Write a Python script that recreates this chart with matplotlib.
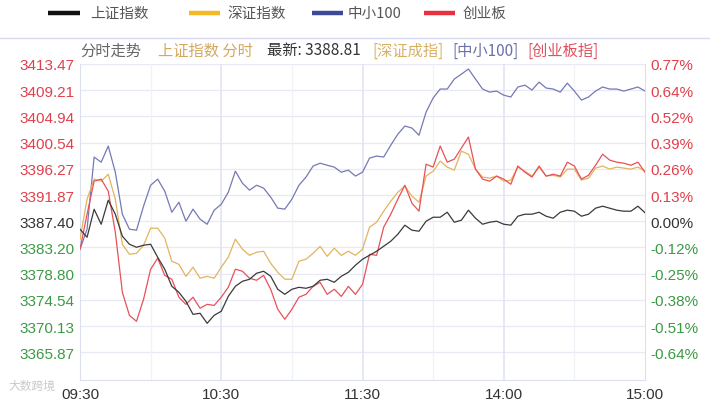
import numpy as np
import matplotlib
matplotlib.use('Agg')
import matplotlib.pyplot as plt
from matplotlib.lines import Line2D

# Data: intraday, sampled every 3 trading minutes from 09:30 (0) to 15:00 (240)
minutes = np.arange(0, 241, 3)

BASE = 3387.40  # previous close of 上证指数

# 上证指数 index level
sh_price = [
    3386.07, 3384.74, 3389.39, 3386.90, 3390.89, 3388.56, 3384.91, 3383.58, 3383.08, 3383.42,
    3383.58, 3381.42, 3379.43, 3376.61, 3375.61, 3374.12, 3371.96, 3372.13, 3370.47, 3371.80,
    3372.46, 3374.95, 3376.61, 3377.44, 3377.77, 3378.77, 3379.10, 3378.27, 3376.11, 3375.28,
    3376.11, 3376.44, 3376.28, 3376.61, 3377.61, 3377.77, 3377.27, 3378.27, 3378.93, 3380.10,
    3381.09, 3381.76, 3382.42, 3383.25, 3384.08, 3385.24, 3386.74, 3385.91, 3385.74, 3387.40,
    3388.06, 3388.06, 3388.89, 3387.23, 3387.57, 3389.23, 3387.90, 3386.90, 3387.23, 3387.40,
    3386.90, 3386.74, 3388.23, 3388.56, 3388.56, 3388.89, 3388.23, 3387.90, 3388.89, 3389.23,
    3389.06, 3388.23, 3388.56, 3389.56, 3389.89, 3389.56, 3389.23, 3389.06, 3389.06, 3389.89,
    3388.81,
]

# 深证指数 change (%)
sz_pct = [
    -0.088, 0.108, 0.206, 0.196, 0.230, 0.108, -0.113, -0.162, -0.157, -0.118,
    -0.034, -0.034, -0.083, -0.196, -0.211, -0.270, -0.225, -0.279, -0.270, -0.279,
    -0.225, -0.176, -0.088, -0.137, -0.167, -0.152, -0.147, -0.206, -0.250, -0.284,
    -0.284, -0.196, -0.186, -0.157, -0.123, -0.172, -0.132, -0.167, -0.147, -0.167,
    -0.137, -0.029, -0.005, 0.049, 0.098, 0.142, 0.172, 0.123, 0.093, 0.221,
    0.245, 0.294, 0.265, 0.250, 0.343, 0.328, 0.255, 0.216, 0.211, 0.221,
    0.196, 0.201, 0.265, 0.245, 0.221, 0.265, 0.221, 0.225, 0.216, 0.255,
    0.255, 0.201, 0.211, 0.260, 0.270, 0.255, 0.265, 0.260, 0.255, 0.265,
    0.245,
]

# 中小100 change (%)
zx_pct = [
    -0.137, -0.039, 0.314, 0.289, 0.368, 0.240, 0.034, -0.039, -0.044, 0.074,
    0.176, 0.206, 0.147, 0.044, 0.093, 0.000, 0.059, 0.010, -0.015, 0.054,
    0.083, 0.142, 0.245, 0.186, 0.152, 0.176, 0.162, 0.118, 0.064, 0.059,
    0.108, 0.176, 0.216, 0.270, 0.284, 0.274, 0.265, 0.240, 0.250, 0.221,
    0.240, 0.309, 0.319, 0.314, 0.372, 0.426, 0.466, 0.456, 0.421, 0.534,
    0.603, 0.647, 0.647, 0.696, 0.720, 0.745, 0.696, 0.647, 0.632, 0.637,
    0.617, 0.608, 0.657, 0.666, 0.642, 0.681, 0.652, 0.647, 0.632, 0.676,
    0.637, 0.593, 0.608, 0.637, 0.657, 0.647, 0.647, 0.637, 0.647, 0.657,
    0.637,
]

# 创业板 change (%)
cy_pct = [
    -0.137, 0.034, 0.196, 0.206, 0.147, -0.054, -0.348, -0.461, -0.490, -0.382,
    -0.235, -0.181, -0.265, -0.284, -0.372, -0.407, -0.372, -0.426, -0.407, -0.412,
    -0.372, -0.323, -0.235, -0.245, -0.279, -0.289, -0.265, -0.333, -0.431, -0.480,
    -0.431, -0.372, -0.358, -0.319, -0.299, -0.358, -0.333, -0.368, -0.319, -0.358,
    -0.309, -0.162, -0.167, -0.029, 0.034, 0.108, 0.176, 0.088, 0.049, 0.279,
    0.265, 0.368, 0.289, 0.304, 0.358, 0.412, 0.255, 0.206, 0.196, 0.221,
    0.206, 0.181, 0.270, 0.240, 0.216, 0.270, 0.221, 0.230, 0.221, 0.289,
    0.270, 0.206, 0.225, 0.274, 0.328, 0.299, 0.289, 0.284, 0.274, 0.289,
    0.240,
]

left_labels = ['3365.87', '3370.13', '3374.54', '3378.80', '3383.20', '3387.40',
               '3391.87', '3396.27', '3400.54', '3404.94', '3409.21', '3413.47']
right_labels = ['-0.64%', '-0.51%', '-0.38%', '-0.25%', '-0.12%', '0.00%',
                '0.13%', '0.26%', '0.39%', '0.52%', '0.64%', '0.77%']
tick_steps = list(range(-5, 7))
time_ticks = [0, 60, 120, 180, 240]
time_labels = ['09:30', '10:30', '11:30', '14:00', '15:00']

RED = '#e0404c'
GREEN = '#3c9a44'
DARK = '#333333'
CJK = ['Noto Sans CJK SC', 'DejaVu Sans']
NUM = ['Liberation Sans', 'DejaVu Sans']

W, H = 710, 402
fig = plt.figure(figsize=(W / 100, H / 100), dpi=100)
fig.patch.set_facecolor('white')
ax = fig.add_axes([80 / W, (H - 381) / H, 565 / W, 316 / H])

step = (float(left_labels[-1]) / BASE - 1) * 100 / 6
ax.set_xlim(0, 240)
ax.set_ylim(-6.06 * step, 6 * step)

# grid
for v in tick_steps:
    ax.axhline(v * step, color='#e8e9f4', lw=0.9, zorder=0)
for m in [30, 90, 150, 210]:
    ax.axvline(m, color='#f1f1f8', lw=0.9, zorder=0)
for m in [60, 120, 180]:
    ax.axvline(m, color='#dfe1f1', lw=1.1, zorder=0)
for side in ['left', 'right', 'bottom']:
    ax.spines[side].set_color('#dcdff0')
ax.spines['top'].set_visible(False)

sh_pct = (np.array(sh_price) / BASE - 1) * 100
ax.plot(minutes, zx_pct, color='#7479b4', lw=0.9, zorder=3)
ax.plot(minutes, sz_pct, color='#e2b45c', lw=0.9, zorder=3)
ax.plot(minutes, cy_pct, color='#e8505a', lw=0.9, zorder=4)
ax.plot(minutes, sh_pct, color='#3a3a3a', lw=0.9, zorder=5)

ax.set_xticks(time_ticks)
ax.set_xticklabels(time_labels, fontsize=11, color=DARK, family=NUM)
ax.tick_params(axis='x', length=0, pad=5)

yt = [v * step for v in tick_steps]
ax.set_yticks(yt)
ax.set_yticklabels(left_labels, fontsize=11, family=NUM)
ax.tick_params(axis='y', length=0, pad=4)

ax2 = ax.twinx()
ax2.set_ylim(ax.get_ylim())
ax2.set_yticks(yt)
ax2.set_yticklabels(right_labels, fontsize=11, family=NUM)
ax2.tick_params(axis='y', length=0, pad=4)
for s in ax2.spines.values():
    s.set_visible(False)

for axis in (ax, ax2):
    for lab, v in zip(axis.get_yticklabels(), tick_steps):
        lab.set_color(RED if v > 0 else (DARK if v == 0 else GREEN))

# legend row
legend_items = [
    (48, 80, 90, '#111111', '上证指数'),
    (189, 220, 227, '#f5b921', '深证指数'),
    (312, 343, 348, '#3d4899', '中小100'),
    (424, 455, 463, '#e8303f', '创业板'),
]
ly = 1 - 14 / H
for x0, x1, xt, c, name in legend_items:
    fig.add_artist(Line2D([x0 / W, x1 / W], [ly, ly], transform=fig.transFigure,
                          color=c, lw=3.2, solid_capstyle='butt'))
    fig.text(xt / W, ly, name, fontsize=10.5, color='#555555', family=CJK,
             va='center', ha='left')

# separator under legend
fig.add_artist(Line2D([0, 1], [1 - 39 / H, 1 - 39 / H], transform=fig.transFigure,
                      color='#d8d9ee', lw=1))

# title strip
ty = 1 - 51 / H
title_parts = [
    (80, '分时走势', '#666666'),
    (158, '上证指数 分时', '#d2a85e'),
    (267, '最新: 3388.81', DARK),
    (372, '[深证成指]', '#d8b064'),
    (452, '[中小100]', '#6b70a8'),
    (527, '[创业板指]', '#e0505e'),
]
for x, txt, c in title_parts:
    fig.text(x / W, ty, txt, fontsize=11, color=c, family=CJK, va='center', ha='left')

# watermark
fig.text(8 / W, 1 - 386 / H, '大数跨境', fontsize=8.5, color='#c4c4c4', family=CJK,
         va='center', ha='left', alpha=0.9)

fig.savefig('out.png', dpi=100, facecolor='white')
